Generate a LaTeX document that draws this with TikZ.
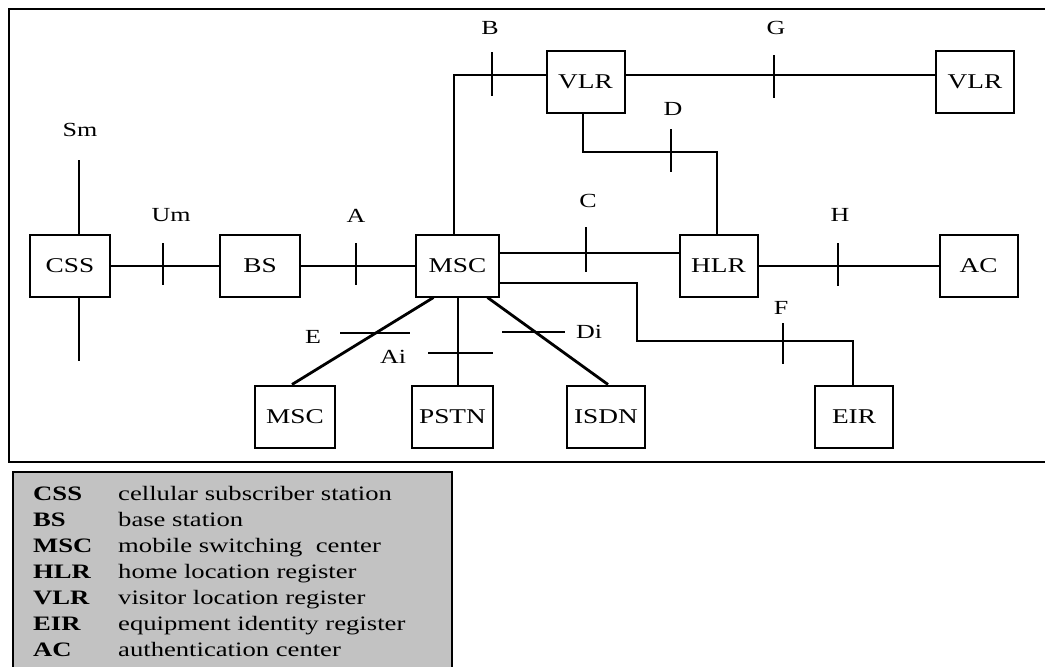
\documentclass[tikz,border=0pt]{standalone}
\usepackage{fontspec}
\setmainfont{Liberation Serif}[FakeStretch=1.3]
\definecolor{leggray}{RGB}{194,194,194}
\begin{document}
\begin{tikzpicture}[x=1pt,y=-1pt,
  unit/.style={draw, line width=2pt, minimum width=78pt, minimum height=62pt,
               inner sep=0pt, font=\fontsize{21}{24}\selectfont},
  link/.style={line width=2pt},
  heavy/.style={line width=2.8pt},
  tick/.style={line width=1.8pt},
  iface/.style={font=\fontsize{20}{22}\selectfont, inner sep=0pt},
  legtxt/.style={anchor=base west, font=\fontsize{20.5}{22}\selectfont, inner sep=0pt}]
\useasboundingbox (0,0) rectangle (1045,667);

% outer frame of the network and legend panel
\draw[line width=2pt] (9,9) rectangle (1052,462);
\draw[line width=2pt, fill=leggray] (13,472) rectangle (452,690);

% network elements
\node[unit, minimum width=80pt] (css)  at (70,265.5)  {CSS};
\node[unit, minimum width=80pt] (bs)   at (260,265.5) {BS};
\node[unit, minimum width=83pt] (msc)  at (457.5,265.5) {MSC};
\node[unit] (vlr)  at (585.5,81.5) {VLR};
\node[unit] (vlrb) at (975,81.5)   {VLR};
\node[unit] (hlr)  at (718.5,265.5) {HLR};
\node[unit] (ac)   at (978.5,265.5) {AC};
\node[unit, minimum width=80pt] (mscb) at (295,416.5) {MSC};
\node[unit, minimum width=81pt] (pstn) at (452.5,416.5) {PSTN};
\node[unit] (isdn) at (606,416.5) {ISDN};
\node[unit] (eir)  at (854,416.5) {EIR};

% routing points
\coordinate (smT) at (79,160);
\coordinate (smB) at (79,361);
\coordinate (bC)  at (454,75);
\coordinate (gC)  at (774,75);
\coordinate (d1)  at (583,152);
\coordinate (d2)  at (717,152);
\coordinate (cY)  at (586,253);
\coordinate (f1)  at (637,283);
\coordinate (f2)  at (637,341);
\coordinate (f3)  at (853,341);

% connections
\draw[link] (css.north -| smT) -- (smT);
\draw[link] (css.south -| smB) -- (smB);
\draw[link] (css.east) -- (bs.west);
\draw[link] (bs.east) -- (msc.west);
\draw[link] (msc.north -| bC) -- (bC) -- (vlr.west |- bC);
\draw[link] (vlr.east |- gC) -- (vlrb.west |- gC);
\draw[link] (vlr.south -| d1) -- (d1) -- (d2) -- (hlr.north -| d2);
\draw[link] (msc.east |- cY) -- (hlr.west |- cY);
\draw[link] (hlr.east) -- (ac.west);
\draw[link] (msc.east |- f1) -- (f1) -- (f2) -- (f3) -- (eir.north -| f3);
\draw[heavy] ([xshift=-24pt]msc.south) -- ([xshift=-3pt]mscb.north);
\draw[link] (msc.south) -- (msc.south |- pstn.north);
\draw[heavy] ([xshift=30pt]msc.south) -- ([xshift=2pt]isdn.north);

% interface ticks
\draw[tick] (163,243) -- (163,285);
\draw[tick] (356,243) -- (356,285);
\draw[tick] (492,52)  -- (492,96);
\draw[tick] (774,55)  -- (774,98);
\draw[tick] (671,129) -- (671,172);
\draw[tick] (586,227) -- (586,272);
\draw[tick] (838,243) -- (838,286);
\draw[tick] (783,323) -- (783,364);
\draw[tick] (340,333) -- (410,333);
\draw[tick] (428,353) -- (493,353);
\draw[tick] (502,332) -- (565,332);

% interface names
\node[iface] (lSm) at (80,130)  {Sm};
\node[iface] (lUm) at (171,215) {Um};
\node[iface] (lA)  at (356,216) {A};
\node[iface] (lB)  at (490,28)  {B};
\node[iface] (lG)  at (776,28)  {G};
\node[iface] (lD)  at (673,109) {D};
\node[iface] (lC)  at (588,201) {C};
\node[iface] (lH)  at (840,215) {H};
\node[iface] (lF)  at (781,308) {F};
\node[iface] (lE)  at (313,337) {E};
\node[iface] (lAi) at (393,357) {Ai};
\node[iface] (lDi) at (589,332) {Di};

% legend
\foreach \ab/\txt [count=\i from 0] in {CSS/cellular subscriber station,
    BS/base station, MSC/mobile switching\ \ center, HLR/home location register,
    VLR/visitor location register, EIR/equipment identity register,
    AC/authentication center}{
  \node[legtxt, font=\fontsize{20.5}{22}\selectfont\bfseries] (ab\i) at (33,{500+26.1*\i}) {\ab};
  \node[legtxt] (tx\i) at (118,{500+26.1*\i}) {\txt};
}
\end{tikzpicture}
\end{document}
